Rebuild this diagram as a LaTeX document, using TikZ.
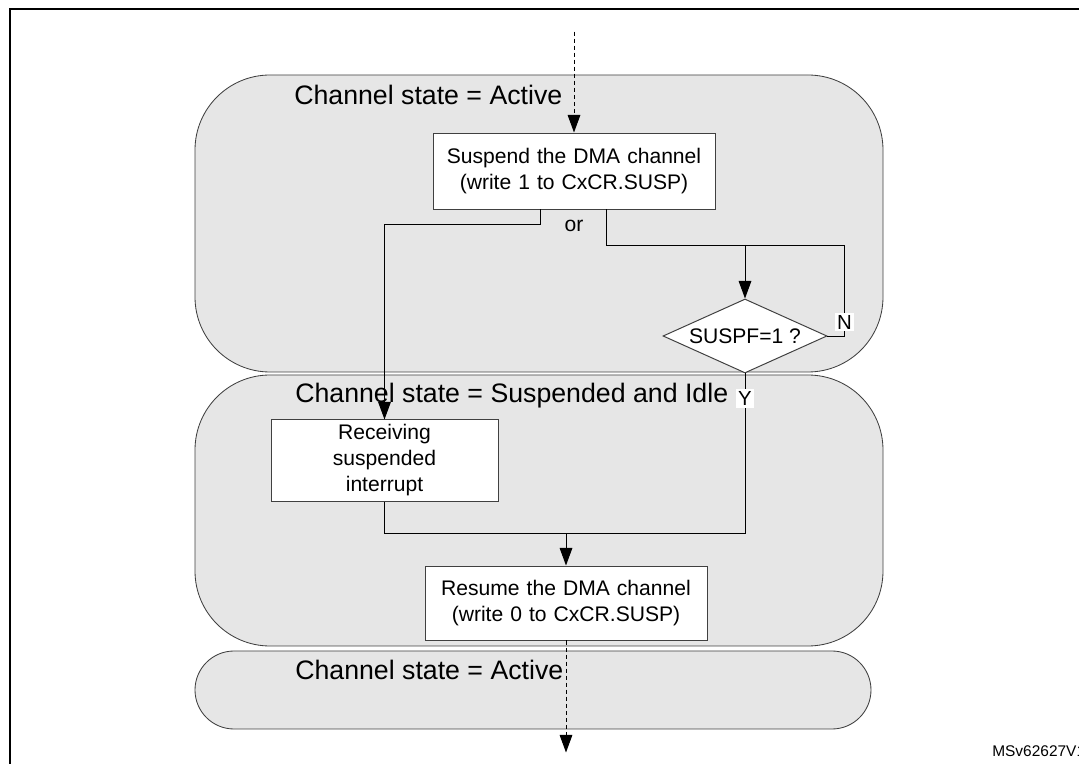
\documentclass[tikz,border=0pt]{standalone}
\usepackage{fontspec}
\setmainfont{Liberation Sans}
\usepackage{tikz}
\usetikzlibrary{shapes.geometric, arrows.meta, positioning}
\definecolor{bubblegray}{RGB}{230,230,230}
\definecolor{edgegray}{RGB}{64,64,64}
\tikzstyle{whrect} = [rectangle,
minimum width=7.05cm,
minimum height=1.9cm,
text centered,
text width=6.8cm,
fill=white,
draw=edgegray, line width=0.7pt,
font=\fontsize{15}{18.5}\selectfont]
\tikzstyle{whdiamond} = [diamond, aspect=2.2, inner sep=0pt,
minimum width=4.1cm,
minimum height=1.85cm,
fill=white,
draw=edgegray, line width=0.7pt,
font=\fontsize{15}{18}\selectfont]
\tikzstyle{graybubble} = [fill=bubblegray, draw=edgegray, line width=0.6pt, rounded corners=1.875cm]
\tikzstyle{statetext} = [anchor=west, inner sep=0pt, font=\fontsize{19}{23}\selectfont]
\tikzstyle{flagtext} = [fill=white, inner sep=1.5pt, font=\fontsize{14.5}{17}\selectfont]
\tikzstyle{flow} = [line width=0.7pt, draw=black]
\tikzstyle{flowarrow} = [flow, -{Triangle[length=12.5pt, width=9pt]}]

\begin{document}
\begin{tikzpicture}[node distance=4cm]
		\useasboundingbox (0,0) rectangle (26.975,19.1);
		% state areas
		\draw [graybubble] (4.875,9.8) rectangle (22.075,17.225);
		\draw [graybubble] (4.875,2.95) rectangle (22.075,9.725);
		\draw [graybubble, rounded corners=0.975cm] (4.875,0.875) rectangle (21.775,2.825);
		\draw [line width=1.4pt] (0.25,-1) -- (0.25,18.875) -- (28,18.875);

		\node (active) [statetext] at (7.35,16.725) {Channel state = Active};
		\node (idle) [statetext] at (7.375,9.2) {Channel state = Suspended and Idle};
		\node (active2) [statetext] at (7.375,2.35) {Channel state = Active};

		\node (suspend) [whrect] at (14.35,14.825) {Suspend the DMA channel\\(write 1 to CxCR.SUSP)};
		\node (susp) [whdiamond, below of=suspend, xshift=4.275cm, yshift=-0.125cm] {SUSPF=1 ?};
		\node (receiving) [whrect, minimum width=5.675cm, minimum height=1.875cm, text width=5.4cm, below of=suspend, xshift=-4.7375cm, yshift=-3.2375cm] {Receiving\\suspended\\interrupt};
		\node (resume) [whrect, minimum height=1.85cm, below of=suspend, xshift=-0.2cm, yshift=-6.8cm] {Resume the DMA channel\\(write 0 to CxCR.SUSP)};
		\node (orlabel) [below=0.27cm of suspend, inner sep=0pt, font=\fontsize{15}{18}\selectfont] {or};

		\coordinate (entry) at ([yshift=2.525cm]suspend.north);
		\draw [flowarrow, dash pattern=on 3pt off 2pt] (entry) -- (suspend);

		% left branch
		\draw [flowarrow] ([xshift=-0.85cm]suspend.south) -- ++(0,-0.375) -| (receiving.north);
		% right branch, polling SUSPF
		\coordinate (poll) at (21.1,12.975);
		\draw [flow] ([xshift=0.8cm]suspend.south) |- (poll);
		\draw [flowarrow] (susp.north |- poll) -- (susp.north);
		\draw [flow] (susp.east) -| (poll);
		\node (nflag) [flagtext] at ([xshift=0.425cm, yshift=0.35cm]susp.east) {N};

		% both ways meet again
		\coordinate (merge) at ([yshift=0.8cm]resume.north);
		\draw [flow] (receiving.south) |- (merge -| susp.south) -- (susp.south);
		\node (yflag) [flagtext] at ([yshift=-0.625cm]susp.south) {Y};
		\draw [flowarrow] (merge) -- (resume);
		\coordinate (exit) at ([yshift=-2.8cm]resume.south);
		\draw [flowarrow, dash pattern=on 3pt off 2pt] (resume) -- (exit);

		\node (figid) [anchor=west, inner sep=0pt, font=\fontsize{11}{13}\selectfont] at (24.8,0.325) {MSv62627V1};
	\end{tikzpicture}
\end{document}
